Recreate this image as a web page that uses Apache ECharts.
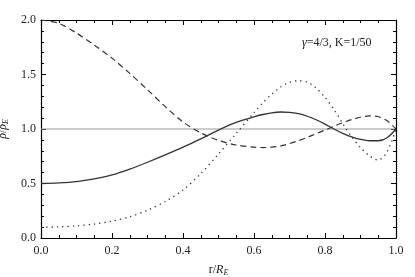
<!DOCTYPE html>
<html><head><meta charset="utf-8">
<script src="https://cdn.jsdelivr.net/npm/echarts@6/dist/echarts.min.js"></script>
<style>html,body{margin:0;padding:0;background:#fff}#c{width:415px;height:277px}</style>
</head><body><div id="c"></div>
<script>
var radius = [0,0.05,0.1,0.15,0.2,0.25,0.3,0.35,0.4,0.45,0.5,0.55,0.6,0.625,0.65,0.675,0.7,0.725,0.75,0.775,0.8,0.825,0.85,0.875,0.9,0.925,0.95,0.975,1.0];
var solidVals  = [0.5,0.505,0.517,0.542,0.578,0.632,0.695,0.762,0.833,0.91,0.99,1.06,1.112,1.133,1.148,1.156,1.153,1.14,1.117,1.085,1.045,1.0,0.96,0.928,0.905,0.892,0.892,0.92,1.0];
var dashedVals = [2.0,1.97,1.88,1.77,1.65,1.51,1.36,1.205,1.065,0.965,0.895,0.853,0.833,0.83,0.833,0.845,0.866,0.893,0.923,0.957,0.99,1.025,1.057,1.086,1.108,1.12,1.112,1.075,1.0];
var dottedVals = [0.1,0.102,0.112,0.128,0.155,0.195,0.255,0.335,0.44,0.59,0.77,0.96,1.15,1.24,1.32,1.385,1.428,1.443,1.43,1.375,1.29,1.18,1.05,0.93,0.83,0.755,0.715,0.79,1.0];
var refVals = [1,1];
var xTicks = [0,0.2,0.4,0.6,0.8,1.0];
var yTicks = [0,0.5,1.0,1.5,2.0];

function pairs(xs, ys){ return xs.map(function(x,i){return [x, ys[i]];}); }
var font = 'Liberation Serif';
var chart = echarts.init(document.getElementById('c'), null, {renderer:'canvas'});
function xAx(pos, labels){
  return {type:'value', position:pos, min:0, max:1, interval:0.2,
    axisLine:{show:true, onZero:false, lineStyle:{color:'#000', width:1.2}},
    axisTick:{show:true, inside:true, length:5, lineStyle:{color:'#000', width:1}},
    minorTick:{show:true, splitNumber:4, length:3, lineStyle:{color:'#000', width:1}},
    splitLine:{show:false},
    axisLabel:{show:labels, fontFamily:font, fontSize:12, color:'#222', margin:7,
      formatter:function(v){return v.toFixed(1);}},
    name: labels ? 'r/{i|R}{s|E}' : '', nameLocation:'middle', nameGap:25,
    nameTextStyle:{fontFamily:font, fontSize:12, color:'#222',
      rich:{i:{fontFamily:font,fontStyle:'italic',fontSize:12,color:'#222'},
            s:{fontFamily:font,fontStyle:'italic',fontSize:8,color:'#222',verticalAlign:'bottom',padding:[6,0,0,0]}}}
  };
}
function yAx(pos, labels){
  return {type:'value', position:pos, min:0, max:2, interval:0.5,
    axisLine:{show:true, onZero:false, lineStyle:{color:'#000', width:1.2}},
    axisTick:{show:true, inside:true, length:5, lineStyle:{color:'#000', width:1}},
    minorTick:{show:true, splitNumber:5, length:3, lineStyle:{color:'#000', width:1}},
    splitLine:{show:false},
    axisLabel:{show:labels, fontFamily:font, fontSize:12, color:'#222', margin:5,
      formatter:function(v){return v.toFixed(1);}},
    name: labels ? '{i|ρ}/{i|ρ}{s|E}' : '', nameLocation:'middle', nameGap:24, nameRotate:90,
    nameTextStyle:{fontFamily:font, fontSize:12, color:'#222',
      rich:{i:{fontFamily:font,fontStyle:'italic',fontSize:12,color:'#222'},
            s:{fontFamily:font,fontStyle:'italic',fontSize:8,color:'#222',padding:[6,0,0,0]}}}
  };
}
chart.setOption({
  animation:false,
  backgroundColor:'#fff',
  grid:{left:41, right:19, top:20, bottom:39, containLabel:false, outerBoundsMode:'none'},
  xAxis:[xAx('bottom', true), xAx('top', false)],
  yAxis:[yAx('left', true), yAx('right', false)],
  graphic:[{type:'text', left:302, top:37, style:{
    text:'{i|γ}=4/3, K=1/50', font:'12px "Liberation Serif"', fill:'#222',
    rich:{i:{fontFamily:font, fontStyle:'italic', fontSize:12, fill:'#222'}}}}],
  series:[
    {type:'line', data:pairs([0,1], refVals), symbol:'none', lineStyle:{color:'#999', width:1}, silent:true},
    {type:'line', data:pairs(radius, solidVals), smooth:0.3, symbol:'none', lineStyle:{color:'#333', width:1.3}},
    {type:'line', data:pairs(radius, dashedVals), smooth:0.3, symbol:'none', lineStyle:{color:'#333', width:1.2, type:[6,4]}},
    {type:'line', data:pairs(radius, dottedVals), smooth:0.3, symbol:'none', lineStyle:{color:'#333', width:1.3, type:[1.3,4]}}
  ]
});
</script></body></html>
